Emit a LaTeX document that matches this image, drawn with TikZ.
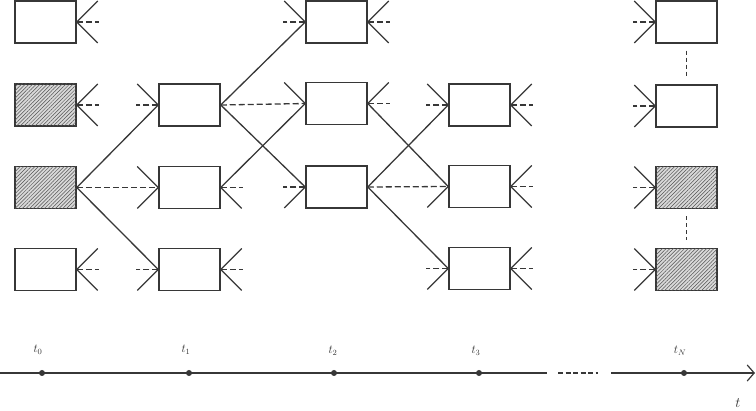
\documentclass[tikz,border=0pt]{standalone}
\usetikzlibrary{patterns.meta,arrows.meta}
\definecolor{ln}{RGB}{55,55,55}
\begin{document}
\begin{tikzpicture}[x=1pt,y=-1pt,
 box/.style={draw=ln, line width=1.5pt, minimum width=61pt, minimum height=42pt, inner sep=0pt},
 hatched/.style={box, fill=gray!30, postaction={pattern={Lines[angle=45,distance=2.6pt,line width=0.5pt]}, pattern color=gray!65!black}},
 ln/.style={line width=1.3pt, draw=ln},
 dsh/.style={line width=1.3pt, draw=ln, dash pattern=on 6pt off 3pt},
 vdsh/.style={line width=1.3pt, draw=ln, dash pattern=on 4pt off 3pt, shorten <=7pt, shorten >=8pt},
 lbl/.style={text=gray!40!black, font=\fontsize{12}{14}\selectfont, inner sep=0pt},
 dotn/.style={circle, fill=ln, inner sep=0pt, minimum size=6pt},
]
\useasboundingbox (0,0) rectangle (756,411);
% boxes
\node[box]     (a1) at (45.5,22) {};
\node[hatched] (a2) at (45.5,105) {};
\node[hatched] (a3) at (45.5,187.5) {};
\node[box]     (a4) at (45.5,269.5) {};
\node[box] (b2) at (189.5,105) {};
\node[box] (b3) at (189.5,187.5) {};
\node[box] (b4) at (189.5,269.5) {};
\node[box] (c1) at (336.5,22) {};
\node[box] (c2) at (336.5,103.5) {};
\node[box] (c3) at (336.5,187) {};
\node[box] (d2) at (479.5,105) {};
\node[box] (d3) at (479.5,186.5) {};
\node[box] (d4) at (479.5,268.5) {};
\node[box]     (n1) at (686.5,22) {};
\node[box]     (n2) at (686.5,106) {};
\node[hatched] (n3) at (686.5,187.5) {};
\node[hatched] (n4) at (686.5,269.5) {};
% right short forks (all three legs)
\foreach \n in {a1,a2,a4,b4,c1,d2,d3,d4}{
  \draw[ln] (\n.east) -- ++(21,-21);
  \draw[ln] (\n.east) -- ++(21,21);
  \draw[dsh] (\n.east) -- ++(22,0);
}
% left short forks (all three legs)
\foreach \n in {n1,n2,n3,n4}{
  \draw[ln] (\n.west) -- ++(-21,-21);
  \draw[ln] (\n.west) -- ++(-21,21);
  \draw[dsh] (\n.west) -- ++(-22,0);
}
% partial left forks
\foreach \n in {b2,c1,c2,d2,b3}{\draw[ln] (\n.west) -- ++(-21,-21);}
\foreach \n in {b3,c3,d3,b4,d4}{\draw[ln] (\n.west) -- ++(-21,21);}
\foreach \n in {b2,c1,c3,d2,b4,d4}{\draw[dsh] (\n.west) -- ++(-22,0);}
% partial right forks
\foreach \n in {c2}{\draw[ln] (\n.east) -- ++(21,-21);}
\foreach \n in {b3}{\draw[ln] (\n.east) -- ++(21,21);}
\foreach \n in {b3,c2}{\draw[dsh] (\n.east) -- ++(22,0);}
% connections
\draw[ln] (a3.east) -- (b2.west);
\draw[dsh] (a3.east) -- (b3.west);
\draw[ln] (a3.east) -- (b4.west);
\draw[ln] (b2.east) -- (c1.west);
\draw[dsh] (b2.east) -- (c2.west);
\draw[ln] (b2.east) -- (c3.west);
\draw[ln] (b3.east) -- (c2.west);
\draw[ln] (c2.east) -- (d3.west);
\draw[ln] (c3.east) -- (d2.west);
\draw[dsh] (c3.east) -- (d3.west);
\draw[ln] (c3.east) -- (d4.west);
% vertical dashes in last column
\draw[vdsh] (n1.south) -- (n2.north);
\draw[vdsh] (n3.south) -- (n4.north);
% time axis
\coordinate (L0) at (0,373);
\coordinate (L1) at (547,373);
\coordinate (L2) at (558,373);
\coordinate (L3) at (598,373);
\coordinate (L4) at (611,373);
\coordinate (L5) at (755,373);
\draw[ln, line width=1.2pt] (L0) -- (L1);
\draw[ln, line width=1.2pt, dash pattern=on 5pt off 2.5pt] (L2) -- (L3);
\draw[ln, line width=1.2pt, -{Straight Barb[length=7pt,width=16pt,line width=1.2pt]}] (L4) -- (L5);
\node[dotn] (p0) at (42,373) {};
\node[dotn] (p1) at (189,373) {};
\node[dotn] (p2) at (334,373) {};
\node[dotn] (p3) at (479,373) {};
\node[dotn] (pN) at (684,373) {};
\node[lbl] (l0) at (38,350) {$t_0$};
\node[lbl] (l1) at (186,350) {$t_1$};
\node[lbl] (l2) at (333,351) {$t_2$};
\node[lbl] (l3) at (476,351) {$t_3$};
\node[lbl] (lN) at (680,351) {$t_N$};
\node[lbl, font=\fontsize{15}{17}\selectfont] (lt) at (738,403) {$t$};
\end{tikzpicture}
\end{document}
